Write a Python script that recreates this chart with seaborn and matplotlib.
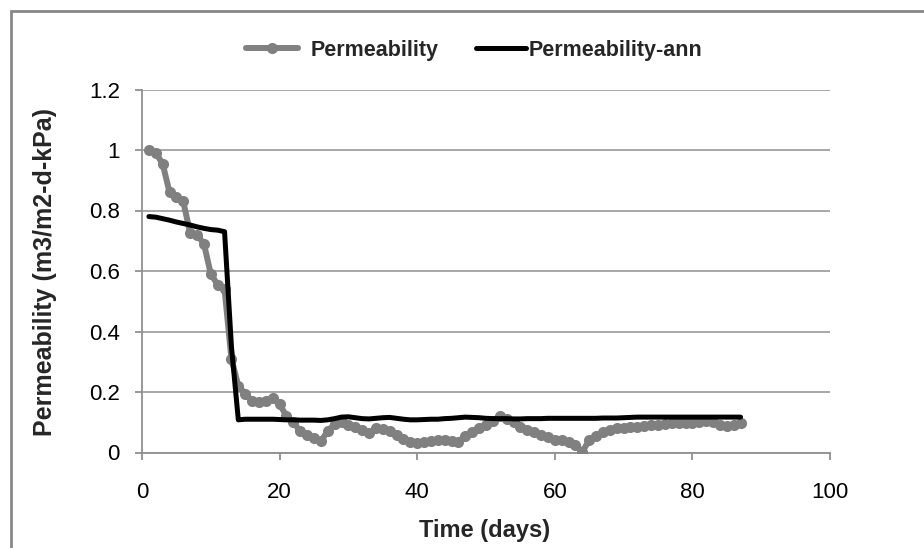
import matplotlib
matplotlib.use("Agg")
import matplotlib.pyplot as plt
import seaborn as sns
import pandas as pd
import numpy as np
from matplotlib.patches import Rectangle
from matplotlib.lines import Line2D

days = list(range(1, 88))
permeability = [
    1.00, 0.99, 0.955, 0.86, 0.845, 0.83, 0.725, 0.72, 0.69, 0.59,
    0.555, 0.54, 0.31, 0.22, 0.195, 0.17, 0.168, 0.17, 0.18, 0.16,
    0.12, 0.10, 0.07, 0.058, 0.048, 0.038, 0.07, 0.095, 0.102, 0.092,
    0.085, 0.075, 0.063, 0.08, 0.078, 0.07, 0.058, 0.045, 0.035, 0.03,
    0.035, 0.038, 0.042, 0.04, 0.038, 0.036, 0.055, 0.068, 0.08, 0.09,
    0.105, 0.12, 0.112, 0.10, 0.085, 0.075, 0.068, 0.058, 0.05, 0.042,
    0.04, 0.036, 0.025, 0.003, 0.04, 0.055, 0.068, 0.075, 0.08, 0.082,
    0.083, 0.085, 0.087, 0.09, 0.092, 0.095, 0.097, 0.097, 0.096, 0.098,
    0.102, 0.104, 0.10, 0.09, 0.088, 0.092, 0.097,
]
permeability_ann = [
    0.78, 0.778, 0.773, 0.768, 0.762, 0.757, 0.752, 0.746, 0.741, 0.737,
    0.735, 0.73, 0.35, 0.108, 0.11, 0.11, 0.11, 0.11, 0.11, 0.109,
    0.108, 0.108, 0.107, 0.107, 0.107, 0.106, 0.108, 0.112, 0.117, 0.118,
    0.115, 0.112, 0.111, 0.113, 0.115, 0.116, 0.113, 0.11, 0.108, 0.108,
    0.109, 0.11, 0.11, 0.112, 0.113, 0.115, 0.117, 0.116, 0.115, 0.113,
    0.112, 0.112, 0.112, 0.111, 0.111, 0.112, 0.112, 0.112, 0.113, 0.113,
    0.113, 0.113, 0.113, 0.113, 0.113, 0.113, 0.114, 0.114, 0.114, 0.115,
    0.116, 0.117, 0.117, 0.117, 0.117, 0.117, 0.117, 0.117, 0.117, 0.117,
    0.117, 0.117, 0.117, 0.117, 0.117, 0.117, 0.117,
]
x_ticks = [0, 20, 40, 60, 80, 100]
y_ticks = [0, 0.2, 0.4, 0.6, 0.8, 1.0, 1.2]
y_tick_labels = ["0", "0.2", "0.4", "0.6", "0.8", "1", "1.2"]
series_names = ["Permeability", "Permeability-ann"]

df = pd.DataFrame({"day": days, "perm": permeability, "ann": permeability_ann})

sns.set_theme(style="white")
plt.rcParams["font.family"] = ["Liberation Sans", "DejaVu Sans"]

fig = plt.figure(figsize=(9.24, 5.48), dpi=100)
ax = fig.add_axes([142 / 924, 1 - 452.5 / 548, (830 - 142) / 924, (452.5 - 89.5) / 548])

grey = "#808080"
sns.lineplot(data=df, x="day", y="perm", ax=ax, color=grey, linewidth=4.3,
             marker="o", markersize=8, markeredgewidth=0, zorder=3)
sns.lineplot(data=df, x="day", y="ann", ax=ax, color="black", linewidth=3.6, zorder=4)

ax.set_xlim(0, 100)
ax.set_ylim(0, 1.2)
ax.set_xticks(x_ticks)
ax.set_xticklabels([str(t) for t in x_ticks], fontsize=16)
ax.set_yticks(y_ticks)
ax.set_yticklabels(y_tick_labels, fontsize=16)
ax.yaxis.grid(True, color="#A0A0A0", linewidth=1.3)
ax.xaxis.grid(False)
for s in ["top", "right"]:
    ax.spines[s].set_visible(False)
for s in ["left", "bottom"]:
    ax.spines[s].set_color("#909090")
    ax.spines[s].set_linewidth(1.3)
ax.tick_params(axis="both", which="both", direction="out", length=5, width=1.3,
               color="#909090", labelcolor="black", left=True, bottom=True)
ax.tick_params(axis="y", pad=11)
ax.tick_params(axis="x", pad=16)

ax.set_xlabel("Time (days)", fontsize=17, fontweight="bold")
ax.xaxis.label.set_va("center")
ax.xaxis.set_label_coords(0.4985, (452.5 - 530) / 363)
ax.set_ylabel("Permeability (m3/m2-d-kPa)", fontsize=18, fontweight="bold")
ax.yaxis.label.set_va("center")
ax.yaxis.set_label_coords((45 - 142) / 688, (452.5 - 272) / 363)

h1 = Line2D([0], [0], color=grey, linewidth=4.3, marker="o", markersize=8, markeredgewidth=0)
h2 = Line2D([0], [0], color="black", linewidth=3.6)
fs = 15.5
fig.legend([h1], [series_names[0]], loc="center left",
           bbox_to_anchor=(246 / 924, 1 - 50 / 548), frameon=False,
           prop={"weight": "bold", "size": fs}, handlelength=2.4,
           handletextpad=0.6, borderpad=0, borderaxespad=0)
fig.legend([h2], [series_names[1]], loc="center left",
           bbox_to_anchor=(476 / 924, 1 - 50 / 548), frameon=False,
           prop={"weight": "bold", "size": fs}, handlelength=2.3,
           handletextpad=0.15, borderpad=0, borderaxespad=0)

fig.patches.append(Rectangle((11 / 924, -0.1), 1.2, 1 - 11 / 548 + 0.1,
                             transform=fig.transFigure, fill=False,
                             edgecolor="#888888", linewidth=2))

fig.savefig("out.png", dpi=100)
